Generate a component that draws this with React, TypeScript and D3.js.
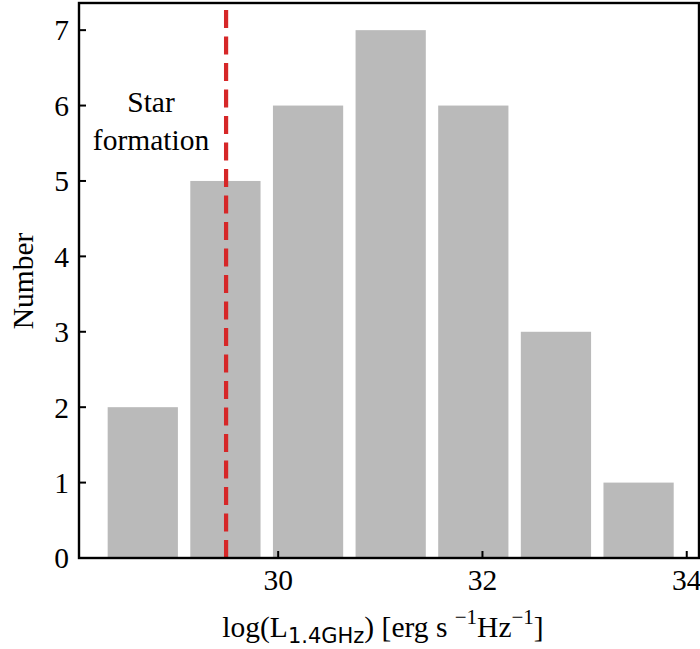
import React from "react";
import * as d3 from "d3";

// Histogram of 1.4 GHz radio luminosities
const binStart = 28.27;
const binWidth = 0.809;
const counts = [2, 5, 6, 7, 6, 3, 1];
const xTicks = [30, 32, 34];
const yTicks = [0, 1, 2, 3, 4, 5, 6, 7];
const starFormationLimit = 29.49;
const annotationLines = ["Star", "formation"];

const W = 700;
const H = 649;
const M = { left: 79, right: 1, top: 3, bottom: 91 };
const SERIF = "'Liberation Serif', 'Times New Roman', serif";
const SANS = "'DejaVu Sans', 'Open Sans', sans-serif";
const FS = 29.5;

export default function App() {
  const x = d3.scaleLinear().domain([28.05, 34.12]).range([M.left, W - M.right]);
  const y = d3.scaleLinear().domain([0, 7.36]).range([H - M.bottom, M.top]);
  const x0 = M.left;
  const x1 = W - M.right;
  const y0 = H - M.bottom;
  const y1 = M.top;
  const barFrac = 0.85;

  const bars = counts.map((c, i) => {
    const center = binStart + binWidth * (i + 0.5);
    const w = binWidth * barFrac;
    return { c, left: x(center - w / 2), right: x(center + w / 2) };
  });

  return (
    <svg
      width={W}
      height={H}
      style={{ position: "absolute", left: 0, top: 0, background: "#fff" }}
    >
      {bars.map((b, i) => (
        <rect
          key={i}
          x={b.left}
          y={y(b.c)}
          width={b.right - b.left}
          height={y(0) - y(b.c)}
          fill="#bababa"
        />
      ))}

      {/* star-formation threshold */}
      <line
        x1={x(starFormationLimit)}
        x2={x(starFormationLimit)}
        y1={y0}
        y2={9}
        stroke="#d62728"
        strokeWidth={4.2}
        strokeDasharray="18 8.5"
      />

      {/* frame */}
      <rect
        x={x0}
        y={y1}
        width={x1 - x0}
        height={y0 - y1}
        fill="none"
        stroke="#000"
        strokeWidth={2.4}
      />

      {/* y ticks */}
      {yTicks.map((t) => (
        <g key={t}>
          <line x1={x0} x2={x0 + 7} y1={y(t)} y2={y(t)} stroke="#000" strokeWidth={2} />
          <text
            x={69}
            y={y(t)}
            dy="0.35em"
            textAnchor="end"
            fontFamily={SERIF}
            fontSize={FS}
            fill="#000"
          >
            {t}
          </text>
        </g>
      ))}

      {/* x ticks */}
      {xTicks.map((t) => (
        <g key={t}>
          <line x1={x(t)} x2={x(t)} y1={y0} y2={y0 - 7} stroke="#000" strokeWidth={2} />
          <text
            x={x(t)}
            y={590}
            textAnchor="middle"
            fontFamily={SERIF}
            fontSize={FS}
            fill="#000"
          >
            {t}
          </text>
        </g>
      ))}

      {/* annotation */}
      {annotationLines.map((s, i) => (
        <text
          key={s}
          x={151}
          y={112 + i * 37.5}
          textAnchor="middle"
          fontFamily={SERIF}
          fontSize={FS}
          fill="#000"
        >
          {s}
        </text>
      ))}

      {/* axis labels */}
      <text
        transform={`translate(33, 281) rotate(-90)`}
        textAnchor="middle"
        fontFamily={SERIF}
        fontSize={FS}
        fill="#000"
      >
        Number
      </text>

      <text x={383} y={637} textAnchor="middle" fontFamily={SERIF} fontSize={FS} fill="#000">
        log(L
        <tspan fontFamily={SANS} fontSize={21} dy={6}>1.4GHz</tspan>
        <tspan dy={-6}>) [erg s </tspan>
        <tspan fontSize={21} dy={-13}>−1</tspan>
        <tspan dy={13}>Hz</tspan>
        <tspan fontSize={21} dy={-13}>−1</tspan>
        <tspan dy={13}>]</tspan>
      </text>
    </svg>
  );
}
